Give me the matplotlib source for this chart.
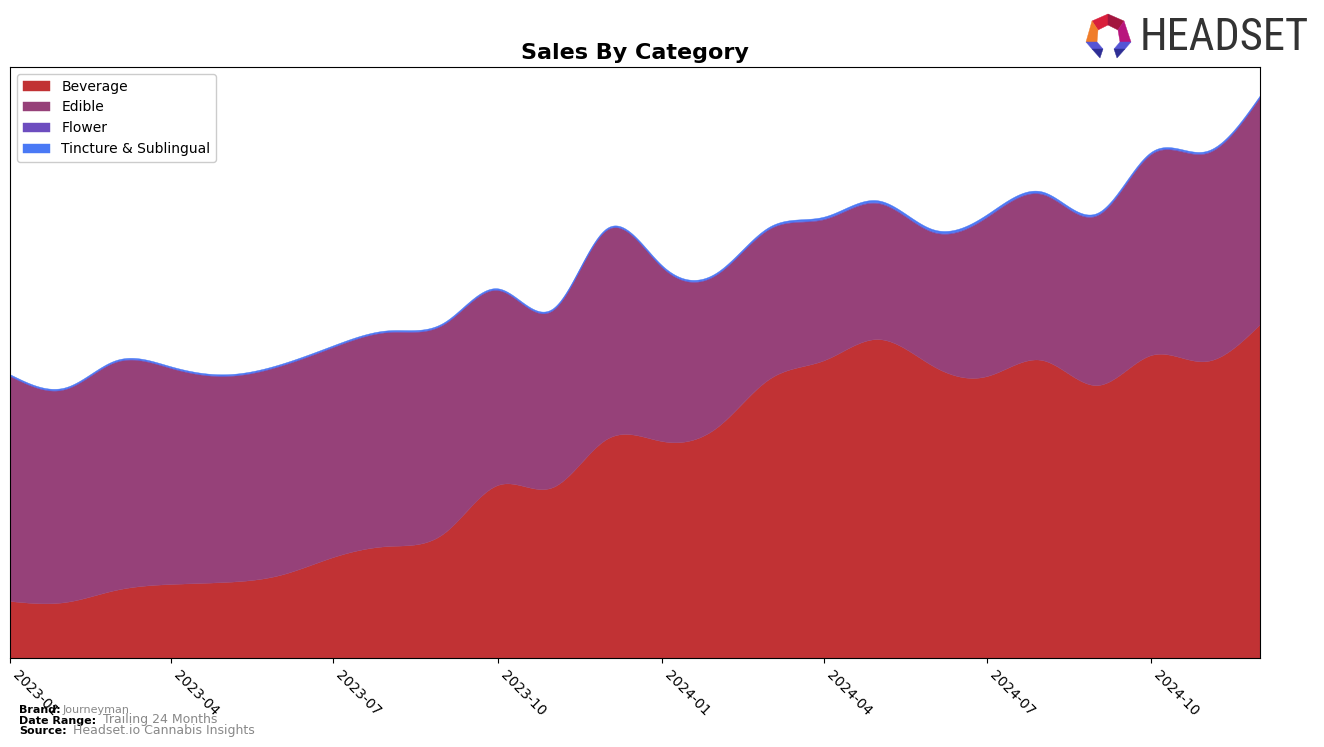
import numpy as np
import pandas as pd
import matplotlib
matplotlib.use("Agg")
import matplotlib.pyplot as plt
import matplotlib.dates as mdates
from matplotlib.patches import Polygon

# ---------------- data ----------------
months = pd.date_range("2023-01-01", "2024-12-01", freq="MS")
categories = ["Beverage", "Edible", "Flower", "Tincture & Sublingual"]
beverage = [57, 56, 68, 74, 76, 83, 101, 112, 125, 173, 171, 219,
            217, 231, 279, 298, 319, 292, 282, 298, 273, 303, 297, 334]
edible = [225, 213, 228, 216, 206, 209, 210, 214, 209, 195, 177, 209,
          174, 153, 150, 141, 136, 134, 159, 166, 170, 201, 208, 227]
flower = [0.6, 0.6, 0.6, 0.6, 0.6, 0.6, 0.6, 0.6, 0.6, 0.6, 0.6, 0.6,
          0.6, 0.6, 0.6, 0.8, 0.8, 0.8, 0.8, 0.8, 0.8, 0.8, 0.8, 0.8]
tincture = [1.2, 1.2, 1.2, 1.2, 1.2, 1.2, 1.2, 1.2, 1.2, 1.2, 1.2, 1.2,
            1.4, 1.4, 1.6, 1.8, 2.0, 2.0, 2.0, 1.8, 1.6, 1.4, 1.4, 1.2]
colors = ["#c13234", "#964179", "#6d4dbf", "#4a79f5"]
tick_months = pd.date_range("2023-01-01", "2024-10-01", freq="3MS")


def natural_spline(x, y, xs):
    x = np.asarray(x, float)
    y = np.asarray(y, float)
    n = len(x)
    h = np.diff(x)
    A = np.zeros((n, n))
    b = np.zeros(n)
    A[0, 0] = 1
    A[-1, -1] = 1
    for i in range(1, n - 1):
        A[i, i - 1] = h[i - 1]
        A[i, i] = 2 * (h[i - 1] + h[i])
        A[i, i + 1] = h[i]
        b[i] = 6 * ((y[i + 1] - y[i]) / h[i] - (y[i] - y[i - 1]) / h[i - 1])
    M = np.linalg.solve(A, b)
    idx = np.clip(np.searchsorted(x, xs) - 1, 0, n - 2)
    x0, x1 = x[idx], x[idx + 1]
    hh = x1 - x0
    t0 = x1 - xs
    t1 = xs - x0
    return (M[idx] * t0 ** 3 / (6 * hh) + M[idx + 1] * t1 ** 3 / (6 * hh)
            + (y[idx] / hh - M[idx] * hh / 6) * t0
            + (y[idx + 1] / hh - M[idx + 1] * hh / 6) * t1)


xnum = mdates.date2num(months.to_pydatetime())
xs = np.linspace(xnum[0], xnum[-1], 1200)
series = [beverage, edible, flower, tincture]
smooth = [np.clip(natural_spline(xnum, s, xs), 0, None) for s in series]

fig = plt.figure(figsize=(13.24, 7.47), dpi=100)
W, H = 1324, 747
ax = fig.add_axes([10 / W, 1 - 658 / H, 1250 / W, 591 / H])
ax.stackplot(mdates.num2date(xs), *smooth, labels=categories, colors=colors,
             linewidth=0.3, edgecolor="face")

total = np.sum(smooth, axis=0)
ax.set_xlim(mdates.num2date(xnum[0]), mdates.num2date(xnum[-1]))
ax.set_ylim(0, total.max() * 1.05)
ax.set_yticks([])
ax.set_xticks(tick_months.to_pydatetime())
ax.xaxis.set_major_formatter(mdates.DateFormatter("%Y-%m"))
for lbl in ax.get_xticklabels():
    lbl.set_rotation(-45)
    lbl.set_ha("left")
    lbl.set_va("top")
    lbl.set_fontsize(10)
ax.set_title("Sales By Category", fontsize=16, fontweight="bold", pad=6)
ax.legend(loc="upper left", fontsize=10, framealpha=1, edgecolor="#cccccc")

# footer
fig.text(19 / W, 1 - 710 / H, "Brand:", fontsize=8, fontweight="bold", va="center")
fig.text(63 / W, 1 - 710 / H, "Journeyman", fontsize=8, color="#888888", va="center")
fig.text(19 / W, 1 - 721 / H, "Date Range:", fontsize=8, fontweight="bold", va="center")
fig.text(103 / W, 1 - 719.5 / H, "Trailing 24 Months", fontsize=9, color="#888888", va="center")
fig.text(19 / W, 1 - 731 / H, "Source:", fontsize=8, fontweight="bold", va="center")
fig.text(73 / W, 1 - 730.5 / H, "Headset.io Cannabis Insights", fontsize=9, color="#888888", va="center")

# logo
lax = fig.add_axes([0, 0, 1, 1], zorder=5)
lax.set_xlim(0, W)
lax.set_ylim(H, 0)
lax.axis("off")
lax.patch.set_visible(False)
T, UL, L, UR, R = (1108, 14), (1092, 21), (1086, 42), (1124, 21), (1131, 42)
iT, iUL, iL, iUR, iR = (1108, 25), (1098, 30), (1097, 42), (1118, 30), (1120, 42)
logo_parts = [
    ([T, UL, iUL, iT], "#d91f3c"),
    ([T, iT, iUR, UR], "#a3153f"),
    ([UL, L, iL, iUL], "#f07d2a"),
    ([UR, iUR, iR, R], "#b8157d"),
    ([L, iL, (1103, 49), (1092, 49)], "#5555d5"),
    ([(1092, 49), (1103, 49), (1100, 58)], "#2e2e95"),
    ([R, iR, (1114, 49), (1125, 49)], "#5555d5"),
    ([(1125, 49), (1114, 49), (1117, 58)], "#2e2e95"),
]
for pts, c in logo_parts:
    lax.add_patch(Polygon(pts, closed=True, facecolor=c, edgecolor=c, lw=0.3))
fig.text(1140 / W, 1 - 38 / H, "HEADSET", fontsize=32, color="#333333",
         va="center", ha="left", family=["Liberation Sans Narrow", "Roboto Condensed", "Roboto"])

fig.savefig("out.png", dpi=100)
